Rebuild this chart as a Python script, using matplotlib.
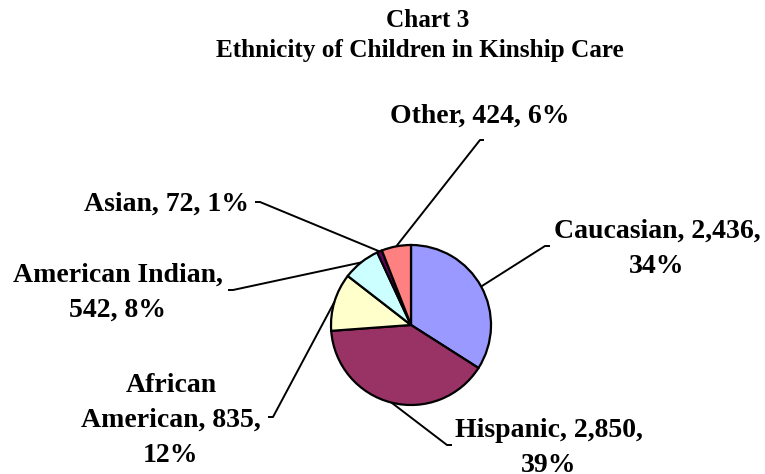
import matplotlib

matplotlib.use("Agg")
import matplotlib.pyplot as plt  # noqa: E402
import numpy as np  # noqa: E402

W, H = 765, 474

# slices, clockwise from 12 o'clock
groups = ["Caucasian", "Hispanic", "African American", "American Indian", "Asian", "Other"]
counts = [2436, 2850, 835, 542, 72, 424]
pct_labels = ["34%", "39%", "12%", "8%", "1%", "6%"]
colors = ["#9999FF", "#993366", "#FFFFCC", "#CCFFFF", "#660066", "#FF8080"]

# label text lines (as split in the original chart)
label_lines = [
    ["Caucasian, 2,436,", "34%"],
    ["Hispanic, 2,850,", "39%"],
    ["African", "American, 835,", "12%"],
    ["American Indian,", "542, 8%"],
    ["Asian, 72, 1%"],
    ["Other, 424, 6%"],
]

# layout in pixels (y measured from top): text anchor x, first baseline, alignment
label_pos = [(657, 238, "center"), (549, 437, "center"), (171, 392, "center"),
             (118, 282, "center"), (249, 211, "right"), (480, 123, "center")]
# leader line: (hook end, elbow)
leaders = [((550, 246), (545, 246)), ((452, 445), (447, 445)), ((268, 417), (273, 417)),
           ((228, 290), (233, 290)), ((255, 202), (260, 202)), ((484, 140), (480, 140))]

CX, CY, R = 411, 325, 80
FONT = "Liberation Serif"
LINE_GAP = 35


def fy(y):
    return H - y


fig = plt.figure(figsize=(W / 100, H / 100), dpi=100)
ax = fig.add_axes([0, 0, 1, 1])

wedges, _ = ax.pie(
    counts, colors=colors, startangle=90, counterclock=False,
    center=(CX, fy(CY)), radius=R,
    wedgeprops=dict(edgecolor="black", linewidth=1.6),
)
ax.set_xlim(0, W)
ax.set_ylim(0, H)
ax.set_aspect("equal")
ax.axis("off")

for w, lines, (tx, ty, ha), (hook, elbow) in zip(wedges, label_lines, label_pos, leaders):
    mid = np.deg2rad((w.theta1 + w.theta2) / 2)
    px = CX + R * np.cos(mid)
    py = fy(CY) + R * np.sin(mid)
    ax.plot([hook[0], elbow[0], px], [fy(hook[1]), fy(elbow[1]), py],
            color="black", lw=1.4, solid_capstyle="butt", zorder=1)
    for i, line in enumerate(lines):
        ax.text(tx, fy(ty + i * LINE_GAP), line, ha=ha, va="baseline",
                fontsize=20, fontweight="bold", family=FONT)

ax.text(428, fy(27), "Chart 3", ha="center", va="baseline",
        fontsize=18.2, fontweight="bold", family=FONT)
ax.text(420, fy(57), "Ethnicity of Children in Kinship Care", ha="center", va="baseline",
        fontsize=18.2, fontweight="bold", family=FONT)

fig.savefig("out.png", dpi=100)
